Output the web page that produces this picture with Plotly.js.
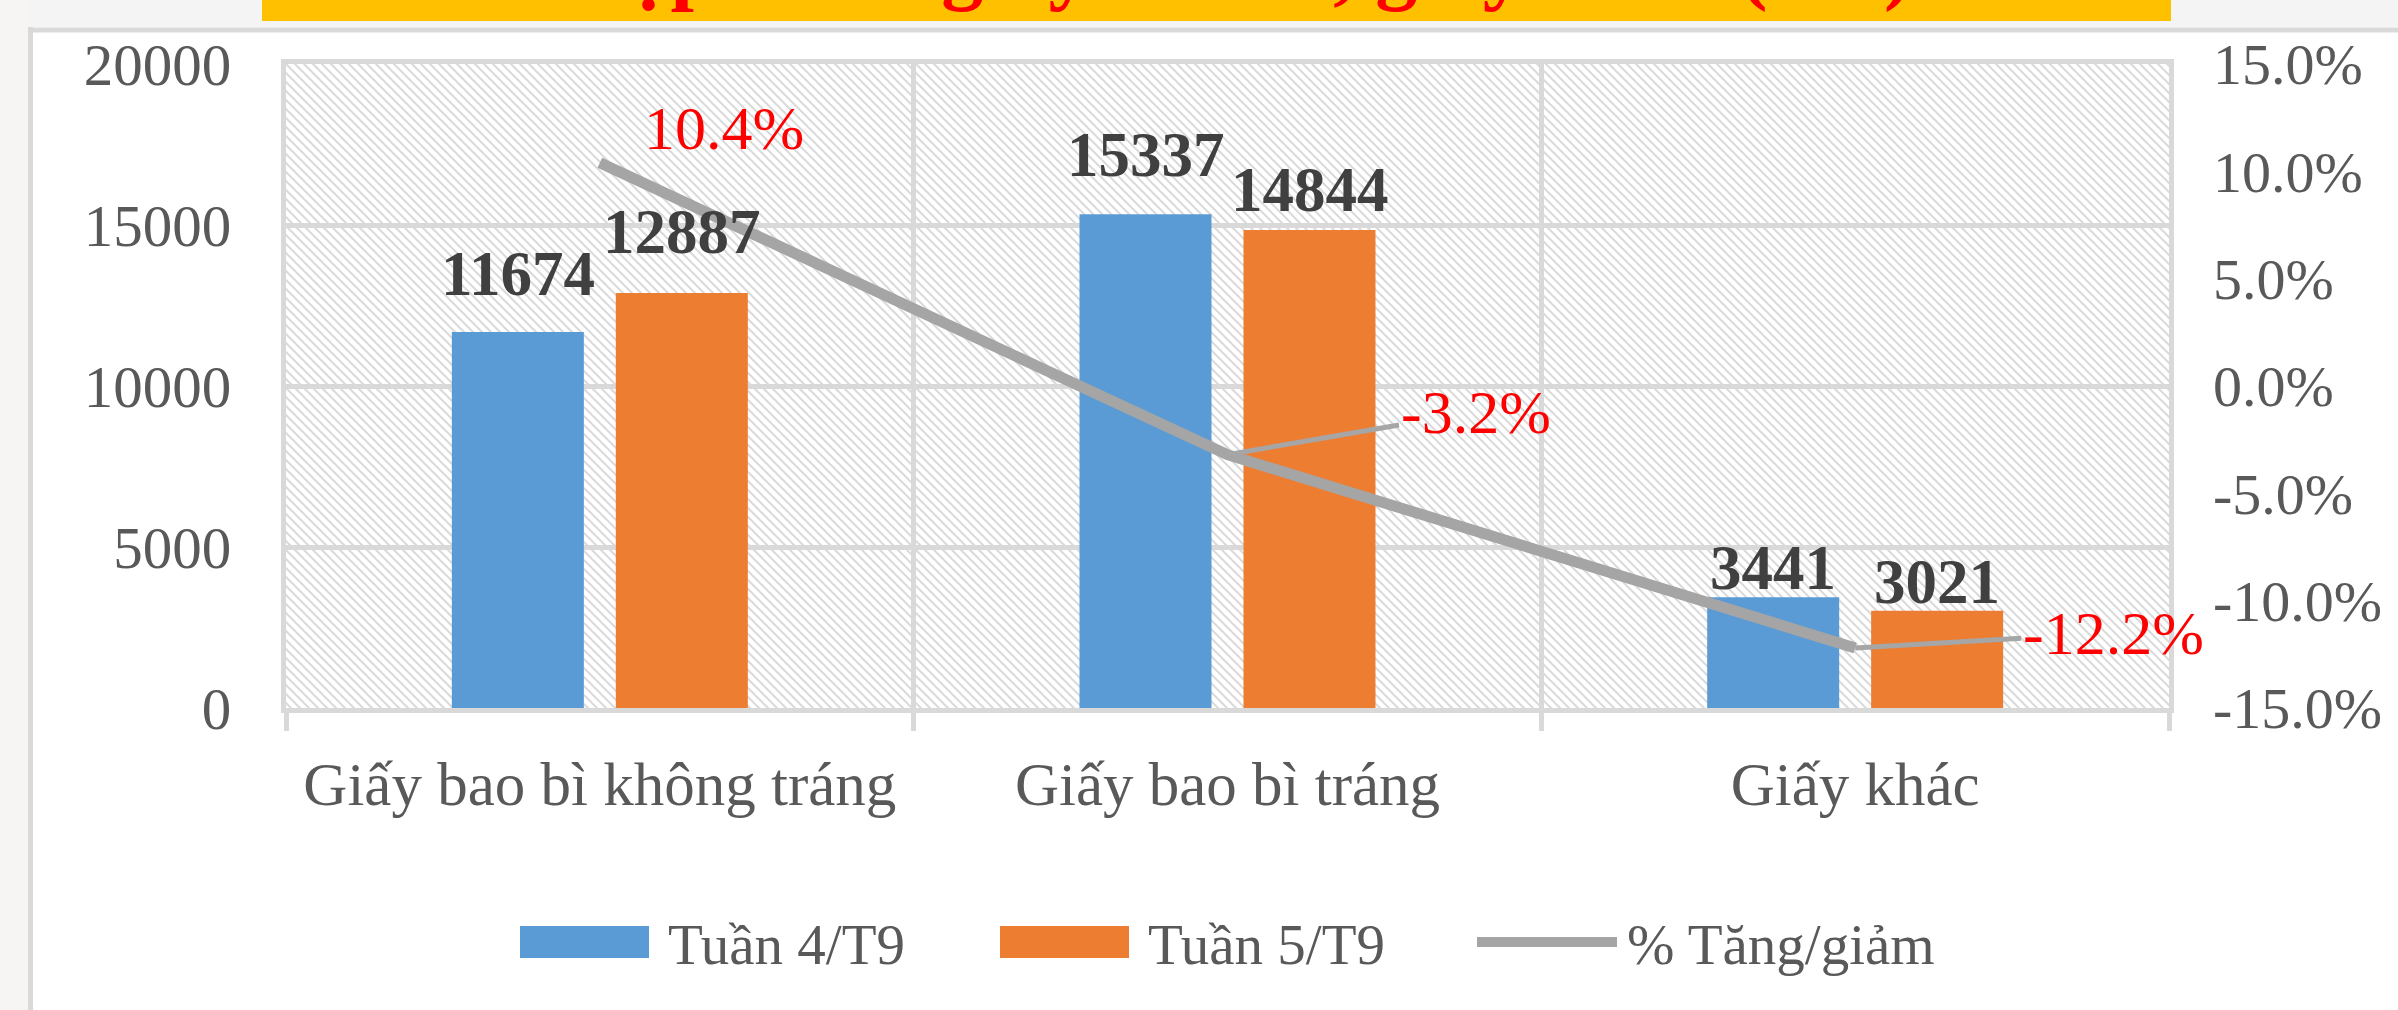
<!DOCTYPE html>
<html>
<head>
<meta charset="utf-8">
<script src="https://cdn.plot.ly/plotly-3.0.1.min.js"></script>
<style>html,body{margin:0;padding:0;background:#fff;}#chart{width:2398px;height:1010px;}</style>
</head>
<body>
<div id="chart"></div>
<script>
// ---- data ----
const categories = ['Giấy bao bì không tráng', 'Giấy bao bì tráng', 'Giấy khác'];
const seriesNames = ['Tuần 4/T9', 'Tuần 5/T9', '% Tăng/giảm'];
const week4 = [11674, 15337, 3441];
const week5 = [12887, 14844, 3021];
const pctChange = [0.104, -0.032, -0.122];
const leftTicks = [0, 5000, 10000, 15000, 20000];
const rightTickVals = [-0.15, -0.10, -0.05, 0, 0.05, 0.10, 0.15];
const rightTickText = ['-15.0%', '-10.0%', '-5.0%', '0.0%', '5.0%', '10.0%', '15.0%'];
const chartTitle = 'Nhập khẩu giấy bao bì, giấy khác (tấn)';

// ---- layout helpers (pixel -> paper) ----
const W = 2398, H = 1010;
const M = {l: 286, r: 229, t: 64, b: 302};
const PW = W - M.l - M.r, PH = H - M.t - M.b;
const px = v => (v - M.l) / PW;
const py = v => 1 - (v - M.t) / PH;

const FONT = 'Liberation Serif, Times New Roman, serif';
const GRID = '#d9d9d9';
const TXT = '#595959';
const colors = ['#5b9bd5', '#ed7d31', '#a5a5a5'];

const traces = [
  {type: 'bar', name: seriesNames[0], x: categories, y: week4, marker: {color: colors[0]}, showlegend: false, hoverinfo: 'skip'},
  {type: 'bar', name: seriesNames[1], x: categories, y: week5, marker: {color: colors[1]}, showlegend: false, hoverinfo: 'skip'},
  {type: 'scatter', mode: 'lines', name: seriesNames[2], x: categories, y: pctChange, yaxis: 'y2',
   line: {color: colors[2], width: 11}, showlegend: false, hoverinfo: 'skip'}
];

// hatch background for plot area
const hatchSvg = "<svg xmlns='http://www.w3.org/2000/svg' width='" + PW + "' height='" + PH + "'>" +
  "<defs><pattern id='h' patternUnits='userSpaceOnUse' width='9' height='9'>" +
  "<path d='M-1,-1L10,10M-1,8L1,10M8,-1L10,1' stroke='#dadada' stroke-width='2'/></pattern></defs>" +
  "<rect width='100%' height='100%' fill='url(#h)'/></svg>";

const annotations = [];
// data labels for bars (style offsets per label)
const barSeries = [week4, week5];
const barShift = [-82, 82];
const barLabelLift = [[21, 22, -8], [24, 3, -8]];
barSeries.forEach((vals, s) => {
  vals.forEach((v, i) => {
    annotations.push({x: categories[i], y: v, xref: 'x', yref: 'y', text: String(v), showarrow: false,
      xanchor: 'center', yanchor: 'bottom', xshift: barShift[s], yshift: barLabelLift[s][i],
      font: {family: FONT, size: 63, color: '#404040', weight: 'bold'}});
  });
});
// percentage labels (style offsets per label)
const pctLabelStyle = [
  {arrow: false, xshift: 42, yshift: 35, xanchor: 'left'},
  {arrow: true, ax: 248, ay: -43},
  {arrow: true, ax: 258, ay: -15}
];
pctChange.forEach((v, i) => {
  const st = pctLabelStyle[i];
  const a = {x: categories[i], y: v, xref: 'x', yref: 'y2', text: (v * 100).toFixed(1) + '%',
    font: {family: FONT, size: 62, color: '#ff0000'}};
  if (st.arrow) {
    Object.assign(a, {showarrow: true, arrowhead: 0, arrowwidth: 5, arrowcolor: '#a6a6a6', ax: st.ax, ay: st.ay, standoff: 0});
  } else {
    Object.assign(a, {showarrow: false, xanchor: st.xanchor, yanchor: 'middle', xshift: st.xshift, yshift: st.yshift});
  }
  annotations.push(a);
});
// title (cut off by top edge as in the reference)
annotations.push({x: px(1216), y: py(15), xref: 'paper', yref: 'paper', text: chartTitle, showarrow: false,
  xanchor: 'center', yanchor: 'bottom', font: {family: FONT, size: 84, color: '#ff0000', weight: 'bold'}});

// custom legend
const legendItems = [
  {kind: 'rect', x0: 520, x1: 649, tx: 666},
  {kind: 'rect', x0: 1000, x1: 1129, tx: 1146},
  {kind: 'line', x0: 1477, x1: 1617, tx: 1625}
];
const shapes = [
  {type: 'rect', xref: 'paper', yref: 'paper', x0: px(0), x1: px(28), y0: py(0), y1: py(H), fillcolor: '#f7f4f4', line: {width: 0}, layer: 'below'},
  {type: 'rect', xref: 'paper', yref: 'paper', x0: px(28), x1: px(W), y0: py(0), y1: py(27), fillcolor: '#f4f4f4', line: {width: 0}, layer: 'below'},
  {type: 'rect', xref: 'paper', yref: 'paper', x0: px(262), x1: px(2171), y0: py(0), y1: py(21), fillcolor: '#ffc000', line: {width: 0}, layer: 'below'},
  {type: 'line', xref: 'paper', yref: 'paper', x0: px(30.5), x1: px(30.5), y0: py(27), y1: py(H), line: {color: GRID, width: 5}},
  {type: 'line', xref: 'paper', yref: 'paper', x0: px(28), x1: px(W), y0: py(30), y1: py(30), line: {color: GRID, width: 5}}
];
legendItems.forEach((it, i) => {
  if (it.kind === 'rect') {
    shapes.push({type: 'rect', xref: 'paper', yref: 'paper', x0: px(it.x0), x1: px(it.x1), y0: py(926), y1: py(958),
      fillcolor: colors[i], line: {width: 0}});
  } else {
    shapes.push({type: 'line', xref: 'paper', yref: 'paper', x0: px(it.x0), x1: px(it.x1), y0: py(942), y1: py(942),
      line: {color: colors[i], width: 10}});
  }
  annotations.push({x: px(it.tx), y: py(944), xref: 'paper', yref: 'paper', text: seriesNames[i], showarrow: false,
    xanchor: 'left', yanchor: 'middle', font: {family: FONT, size: 57, color: TXT}});
});

const layout = {
  width: W, height: H,
  margin: M,
  paper_bgcolor: '#ffffff',
  plot_bgcolor: 'rgba(0,0,0,0)',
  showlegend: false,
  barmode: 'group',
  bargap: 0.4775,
  bargroupgap: 0.195,
  font: {family: FONT, color: TXT},
  xaxis: {
    type: 'category', range: [-0.5, 2.5], tickson: 'boundaries', ticks: 'outside', ticklen: 18, tickwidth: 5, tickcolor: GRID,
    showgrid: true, gridcolor: GRID, gridwidth: 5,
    showline: true, mirror: true, linecolor: GRID, linewidth: 5,
    tickfont: {family: FONT, size: 61, color: TXT}, ticklabelstandoff: 19, fixedrange: true
  },
  yaxis: {
    range: [0, 20000], tickvals: leftTicks, tickformat: 'd',
    showgrid: true, gridcolor: GRID, gridwidth: 5, zeroline: false,
    showline: true, mirror: true, linecolor: GRID, linewidth: 5, ticks: '',
    tickfont: {family: FONT, size: 59, color: TXT}, ticklabelstandoff: 38, fixedrange: true
  },
  yaxis2: {
    overlaying: 'y', side: 'right', range: [-0.15, 0.15], tickvals: rightTickVals, ticktext: rightTickText,
    showgrid: false, zeroline: false, showline: false, ticks: '',
    tickfont: {family: FONT, size: 58, color: TXT}, ticklabelstandoff: 43, fixedrange: true
  },
  images: [{source: 'data:image/svg+xml;charset=utf-8,' + encodeURIComponent(hatchSvg),
    xref: 'paper', yref: 'paper', x: 0, y: 1, sizex: 1, sizey: 1, xanchor: 'left', yanchor: 'top',
    sizing: 'stretch', layer: 'below'}],
  shapes: shapes,
  annotations: annotations
};

Plotly.newPlot('chart', traces, layout, {displayModeBar: false, staticPlot: true});
</script>
</body>
</html>
